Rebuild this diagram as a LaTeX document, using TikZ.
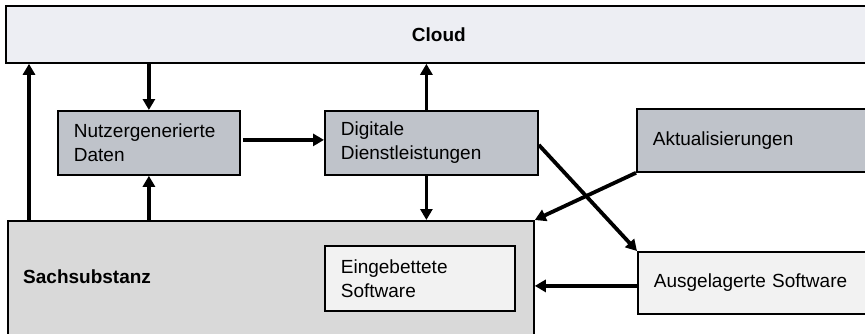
\documentclass[tikz,border=0pt]{standalone}
\usepackage{fontspec}
\setmainfont{Liberation Sans}
\usetikzlibrary{arrows.meta,calc}
\definecolor{cloudfill}{HTML}{EDEEF3}
\definecolor{darkfill}{HTML}{BFC3CA}
\definecolor{midfill}{HTML}{D9D9D9}
\definecolor{lightfill}{HTML}{F2F2F2}
\begin{document}
\begin{tikzpicture}[x=1pt,y=-1pt,
  box/.style={draw=black,line width=1.8pt,anchor=north west,inner ysep=0pt,
    font=\fontsize{19}{24}\selectfont,align=left},
  textbox/.style 2 args={box,minimum width=#1,minimum height=#2,
    text width=#1-32pt,inner xsep=16pt},
  arr/.style={line width=3.8pt,-{Triangle[width=12pt,length=11pt]}}]
\useasboundingbox (0,0) rectangle (865,333);
\clip (0,0) rectangle (865,333);
% boxes
\node[box,fill=cloudfill,minimum width=866pt,minimum height=57pt,
  font=\fontsize{19}{24}\selectfont\bfseries] (cloud) at (5,5) {Cloud};
\node[box,fill=midfill,minimum width=526pt,minimum height=130pt] (sach) at (7,220) {};
\node[anchor=west,inner sep=0pt,font=\fontsize{19}{24}\selectfont\bfseries] (sachlabel) at (23,277) {Sachsubstanz};
\node[textbox={182pt}{64pt},fill=darkfill] (nutzer) at (57,110) {Nutzergenerierte\\Daten};
\node[textbox={213pt}{64pt},fill=darkfill] (digi) at (324,110) {Digitale\\Dienstleistungen};
\node[textbox={240pt}{63pt},fill=darkfill] (akt) at (636,108) {Aktualisierungen};
\node[textbox={240pt}{62pt},fill=lightfill] (ausg) at (637,251) {Ausgelagerte Software};
\node[textbox={190pt}{65pt},fill=lightfill] (einge) at (324,245) {Eingebettete\\Software};
% connectors
\draw[arr] ([xshift=22pt]sach.north west) -- ([xshift=22pt]sach.north west |- cloud.south);
\draw[arr] (nutzer.north |- cloud.south) -- (nutzer.north);
\draw[arr] (nutzer.south |- sach.north) -- (nutzer.south);
\draw[arr,shorten <=2pt] ([yshift=3pt]nutzer.east) -- ([yshift=3pt]digi.west);
\draw[arr] ([xshift=-5pt]digi.north) -- ([xshift=-5pt]digi.north |- cloud.south);
\draw[arr] ([xshift=-5pt]digi.south) -- ([xshift=-5pt]digi.south |- sach.north);
\draw[arr] ([yshift=-2pt]digi.east) -- (ausg.north west);
\draw[arr] (akt.south west) -- (sach.north east);
\draw[arr] ([yshift=-3pt]ausg.west) -- ([yshift=-3pt]ausg.west -| sach.east);
\end{tikzpicture}
\end{document}
